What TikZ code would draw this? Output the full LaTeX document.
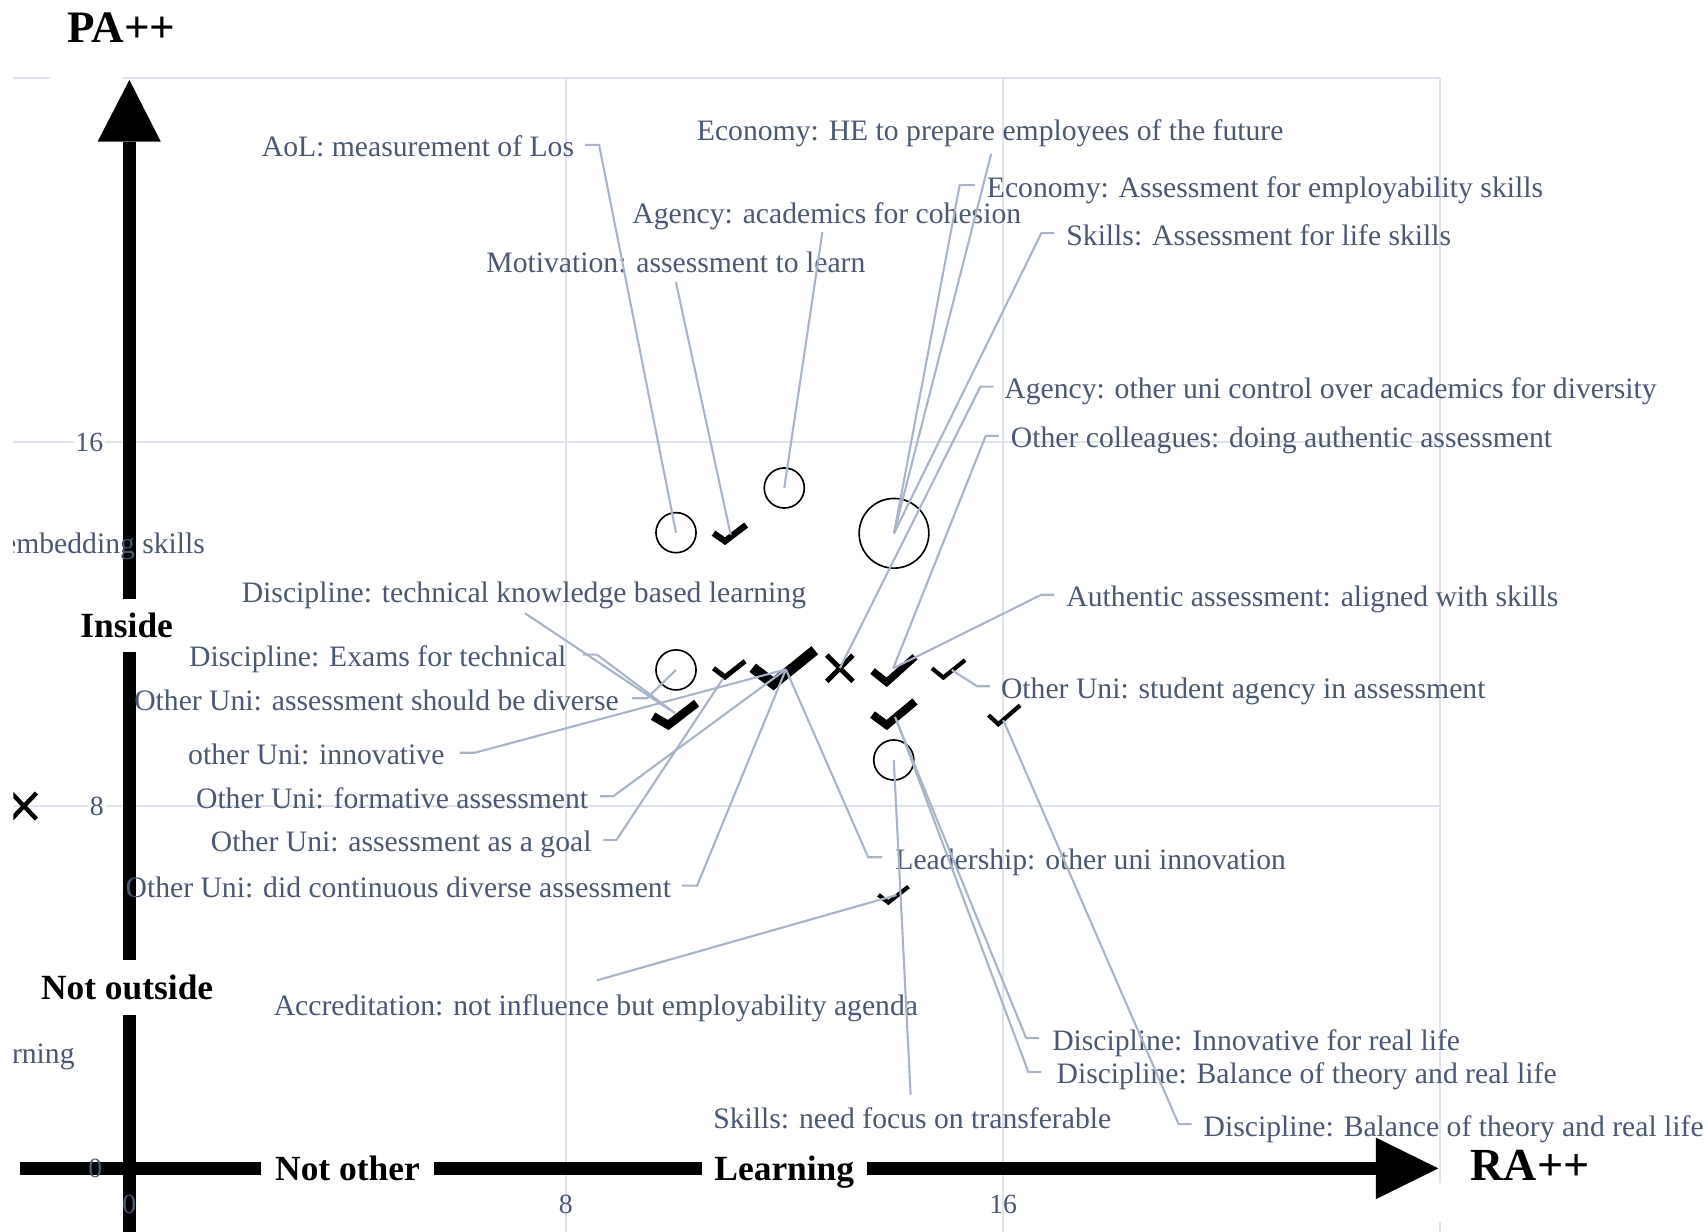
\documentclass[tikz,border=0pt]{standalone}
\usepackage{fontspec}
\setmainfont{Liberation Serif}
\usetikzlibrary{calc}
\definecolor{txtc}{HTML}{4A5874}
\definecolor{leadc}{HTML}{A8B5C8}
\definecolor{gridc}{HTML}{DFE4EC}

\begin{document}
\begin{tikzpicture}[x=0.02cm, y=-0.02cm,
  lbl/.style={text=txtc, font=\fontsize{15.5}{18}\selectfont, inner sep=0pt, outer sep=0pt},
  tickl/.style={text=txtc, font=\fontsize{14.5}{17}\selectfont, inner sep=1pt},
  axlbl/.style={font=\fontsize{18.5}{22}\selectfont\bfseries, text height=12.2pt, text depth=0pt, inner sep=0pt, outer sep=0pt},
  ttl/.style={font=\fontsize{23.5}{28}\selectfont\bfseries, text height=15.5pt, text depth=0pt, inner sep=0pt},
  leader/.style={draw=leadc, line width=1.1pt},
  gridline/.style={draw=gridc, line width=1.1pt},
  axisline/.style={draw=black, line width=6.8pt},
  ring/.style={circle, draw=black, line width=0.85pt, inner sep=0pt, minimum size=0.736cm},
  chk/.style={draw=black, line width=#1, line join=miter, miter limit=10},
  xmk/.style={draw=black, line width=#1},
]
\useasboundingbox (0,0) rectangle (1568,1131);

% ---------- grid ----------
\draw[gridline] (12.3,71.9) -- (45.7,71.9);
\draw[gridline] (112.4,71.9) -- (1322,71.9);
\draw[gridline] (12.3,406) -- (1322,406);
\draw[gridline] (12.3,740.3) -- (1322,740.3);
\draw[gridline] (520,71.9) -- (520,1131);
\draw[gridline] (921,71.9) -- (921,1131);
\draw[gridline] (1322,71.9) -- (1322,1086);
\draw[gridline] (1322,1122) -- (1322,1131);

% ---------- axes ----------
\coordinate (vtip) at (118.8,73.4);
\coordinate (vbase) at (118.8,130);
\coordinate (vbot) at (118.8,1131);
\coordinate (hleft) at (18.5,1072.6);
\coordinate (hbase) at (1263,1072.6);
\coordinate (htip) at (1320.5,1072.6);

\node[axlbl, minimum height=0.98cm] (inside) at (116.3,574.5) {Inside};
\node[axlbl, minimum height=1.01cm] (notout) at (116.7,906.5) {Not outside};
\node[axlbl, minimum width=3.16cm] (notother) at (319,1072.6) {Not other};
\node[axlbl, minimum width=3.04cm] (learning) at (720,1072.6) {Learning};
\node[ttl] (pa) at (111.5,25.3) {PA++};
\node[ttl, font=\fontsize{24}{28}\selectfont\bfseries, text height=15.8pt] (ra) at (1404.7,1069.5) {RA++};

\draw[axisline] (vbase) -- (inside.north -| vbase);
\draw[axisline] (inside.south -| vbase) -- (notout.north -| vbase);
\draw[axisline] (notout.south -| vbase) -- (vbot);
\fill[black] (vtip) -- (89.6,130) -- (147.6,130) -- cycle;

\draw[axisline] (hleft) -- (notother.west |- hleft);
\draw[axisline] (notother.east |- hleft) -- (learning.west |- hleft);
\draw[axisline] (learning.east |- hleft) -- (hbase);
\fill[black] (htip) -- (1263,1044.3) -- (1263,1100.9) -- cycle;

% ---------- tick labels ----------
\node[tickl, fill=white] (y16) at (82,406.5) {16};
\node[tickl, fill=white] (y8) at (88.8,740.6) {8};
\node[tickl] (y0) at (87.5,1072.6) {0};
\node[tickl] (x0) at (118.6,1106) {0};
\node[tickl] (x8) at (519.5,1106) {8};
\node[tickl] (x16) at (921,1106) {16};

% ---------- markers ----------
\node[ring] (c1) at (620.6,489) {};
\node[ring] (c2) at (720,448) {};
\node[ring, minimum size=1.28cm] (c3) at (820.7,489.6) {};
\node[ring] (c4) at (620.6,615) {};
\node[ring] (c5) at (820.5,697.7) {};

\coordinate (k1) at (670.8,491);
\coordinate (k2) at (664,622.7);
\coordinate (k3) at (721.5,614.5);
\coordinate (k4) at (820,613.5);
\coordinate (k5) at (873.7,615);
\coordinate (k6a) at (615,651.8);
\coordinate (k6b) at (619.7,654.8);
\coordinate (k7a) at (821.6,658);
\coordinate (k7b) at (823,661);
\coordinate (k8) at (921,661);
\coordinate (k9) at (823,821.7);
\coordinate (x1) at (771,613.5);

\draw[chk=3.3pt] (655,489.5) -- (665.6,496.8) -- (685,482);
\draw[chk=2.6pt] (655,613.5) -- (665.6,621.5) -- (684,607);
\draw[chk=5.5pt] (691,613) -- (710,627.6) -- (748,597);
\draw[chk=3.8pt] (801,616) -- (814,626.4) -- (840,603);
\draw[chk=2.2pt] (855.5,613.5) -- (866,622) -- (886,606);
\draw[chk=4.4pt] (599.5,657.5) -- (613.5,665.6) -- (639.5,645.5);
\draw[chk=4.2pt] (801,656) -- (814,665.6) -- (840,644);
\draw[chk=2.2pt] (907.5,656.5) -- (916.5,664.8) -- (936.5,647.5);
\draw[chk=2.2pt] (806.5,821.5) -- (815.5,828.5) -- (834,814);

\draw[xmk=2.6pt] ([shift={(-12,-12)}]x1) -- ([shift={(12,12)}]x1);
\draw[xmk=2.6pt] ([shift={(-12,12)}]x1) -- ([shift={(12,-12)}]x1);

% content cut off at the left edge of the plot area
\begin{scope}
  \clip (12.3,0) rectangle (1568,1131);
  \coordinate (x0m) at (22,740);
  \draw[xmk=2.3pt] ([shift={(-11.5,-12)}]x0m) -- ([shift={(11.5,12)}]x0m);
  \draw[xmk=2.3pt] ([shift={(-11.5,12)}]x0m) -- ([shift={(11.5,-12)}]x0m);
  \node[lbl, anchor=mid east] (emb) at (188.2,504) {embedding skills};
  \node[lbl, anchor=mid east] (lrn) at (68.5,972) {rning};
\end{scope}

% ---------- labels ----------
\node[lbl, anchor=mid east] (t1) at (527,140) {AoL: measurement of Los};
\node[lbl, anchor=mid] (t2) at (909,125) {Economy: HE to prepare employees of the future};
\node[lbl, anchor=mid west] (t3) at (906,177) {Economy: Assessment for employability skills};
\node[lbl, anchor=mid] (t4) at (759,201) {Agency: academics for cohesion};
\node[lbl, anchor=mid] (t5) at (620.5,246) {Motivation: assessment to learn};
\node[lbl, anchor=mid west] (t6) at (979,221) {Skills: Assessment for life skills};
\node[lbl, anchor=mid west] (t7) at (922,362) {Agency: other uni control over academics for diversity};
\node[lbl, anchor=mid west] (t8) at (928,407) {Other colleagues: doing authentic assessment};
\node[lbl, anchor=mid] (t9) at (481,549) {Discipline: technical knowledge based learning};
\node[lbl, anchor=mid east] (t10) at (520,608) {Discipline: Exams for technical};
\node[lbl, anchor=mid east] (t11) at (568,648) {Other Uni: assessment should be diverse};
\node[lbl, anchor=mid east] (t12) at (408,698) {other Uni: innovative};
\node[lbl, anchor=mid east] (t13) at (540,738) {Other Uni: formative assessment};
\node[lbl, anchor=mid east] (t14) at (543,778) {Other Uni: assessment as a goal};
\node[lbl, anchor=mid east] (t15) at (616,820) {Other Uni: did continuous diverse assessment};
\node[lbl, anchor=mid west] (t16) at (822,794) {Leadership: other uni innovation};
\node[lbl, anchor=mid] (t17) at (547,928) {Accreditation: not influence but employability agenda};
\node[lbl, anchor=mid] (t18) at (837.5,1032) {Skills: need focus on transferable};
\node[lbl, anchor=mid west] (t19) at (979,553) {Authentic assessment: aligned with skills};
\node[lbl, anchor=mid west] (t20) at (919,637) {Other Uni: student agency in assessment};
\node[lbl, anchor=mid west] (t21) at (966,960) {Discipline: Innovative for real life};
\node[lbl, anchor=mid west] (t22) at (970,991) {Discipline: Balance of theory and real life};
\node[lbl, anchor=mid west] (t23) at (1105,1039) {Discipline: Balance of theory and real life};

% ---------- leader lines ----------
\draw[leader] ([shift={(10,-7)}]t1.mid east) -- ++(13,0) -- (c1.center);
\draw[leader] ([shift={(1,16)}]t2.mid) -- (c3.center);
\draw[leader] ([shift={(-11,-7)}]t3.mid west) -- ++(-14,0) -- (c3.center);
\draw[leader] ([shift={(-4,12)}]t4.mid) -- (c2.center);
\draw[leader] ([shift={(0,13)}]t5.mid) -- (k1);
\draw[leader] ([shift={(-11,-7)}]t6.mid west) -- ++(-12,0) -- (c3.center);
\draw[leader] ([shift={(-10,-7)}]t7.mid west) -- ++(-12,0) -- (x1);
\draw[leader] ([shift={(-11,-7)}]t8.mid west) -- ++(-12,0) -- (k4);
\draw[leader] ([shift={(1,14)}]t9.mid) -- (k6a);
\draw[leader] ([shift={(15,-7)}]t10.mid east) -- ++(13,0) -- (k6b);
\draw[leader] ([shift={(12,-7)}]t11.mid east) -- ++(14,0) -- (c4.center);
\draw[leader] ([shift={(14,-7)}]t12.mid east) -- ++(14,0) -- (k3);
\draw[leader] ([shift={(11,-7)}]t13.mid east) -- ++(12,0) -- (k3);
\draw[leader] ([shift={(11,-7)}]t14.mid east) -- ++(12,0) -- (k2);
\draw[leader] ([shift={(10,-7)}]t15.mid east) -- ++(14,0) -- (k3);
\draw[leader] ([shift={(-12,-7)}]t16.mid west) -- ++(-13,0) -- (k3);
\draw[leader] ([shift={(1,-28)}]t17.mid) -- (k9);
\draw[leader] ([shift={(-1.5,-27)}]t18.mid) -- (c5.center);
\draw[leader] ([shift={(-11,-7)}]t19.mid west) -- ++(-12,0) -- (k4);
\draw[leader] ([shift={(-10,-7)}]t20.mid west) -- ++(-12,0) -- (k5);
\draw[leader] ([shift={(-12,-7)}]t21.mid west) -- ++(-12,0) -- (k7a);
\draw[leader] ([shift={(-14,-7)}]t22.mid west) -- ++(-12,0) -- (k7b);
\draw[leader] ([shift={(-11,-7)}]t23.mid west) -- ++(-12,0) -- (k8);

\end{tikzpicture}
\end{document}
